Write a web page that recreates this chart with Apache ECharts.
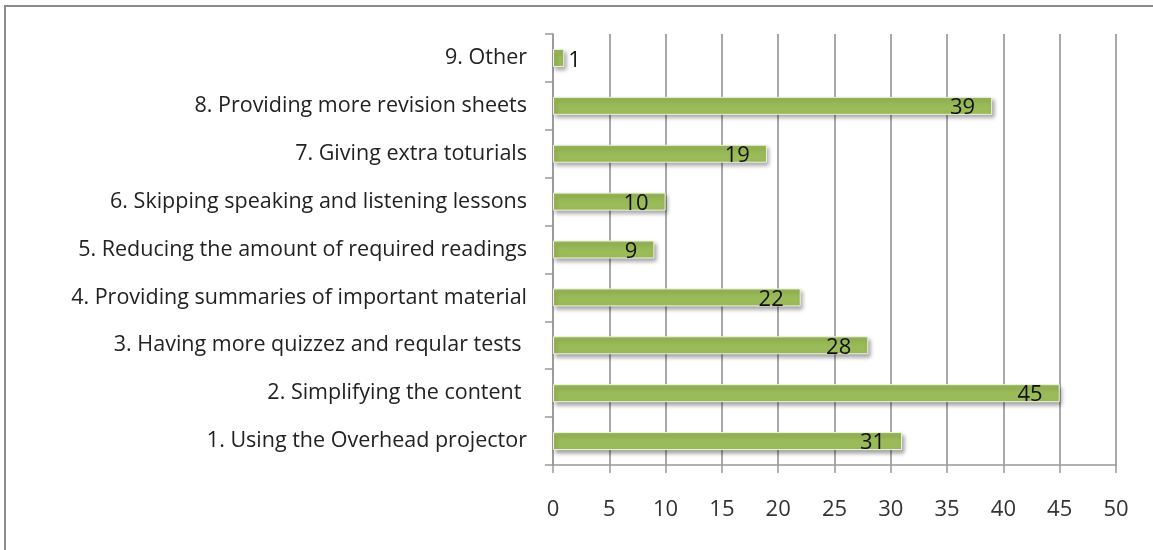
<!DOCTYPE html>
<html>
<head>
<meta charset="utf-8">
<script src="https://cdn.jsdelivr.net/npm/echarts@6/dist/echarts.min.js"></script>
<style>
  html, body { margin: 0; padding: 0; background: #fff; }
  #chart { width: 1153px; height: 550px; }
</style>
</head>
<body>
<div id="chart"></div>
<script>
// categories bottom -> top (ECharts category axis starts at the bottom)
var categories = [
  '1. Using the Overhead projector',
  '2. Simplifying the content ',
  '3. Having more quizzez and reqular tests ',
  '4. Providing summaries of important material',
  '5. Reducing the amount of required readings',
  '6. Skipping speaking and listening lessons',
  '7. Giving extra toturials',
  '8. Providing more revision sheets',
  '9. Other'
];
var counts = [31, 45, 28, 22, 9, 10, 19, 39, 1];
var xTicks = [0, 50, 5]; // min, max, interval

var myChart = echarts.init(document.getElementById('chart'));

var barData = counts.map(function (v) {
  var item = { value: v };
  if (v < 3) {
    item.label = { position: 'right', offset: [-1, 3] };
  }
  return item;
});

myChart.setOption({
  animation: false,
  textStyle: { fontFamily: 'Open Sans' },
  graphic: [{
    type: 'rect',
    shape: { x: 5, y: 6, width: 1170, height: 580 },
    style: { fill: 'none', stroke: '#8c8c8c', lineWidth: 2 },
    silent: true
  }],
  grid: { left: 553, right: 37, top: 34, bottom: 85 },
  xAxis: {
    type: 'value',
    min: xTicks[0],
    max: xTicks[1],
    interval: xTicks[2],
    axisLine: { show: true, lineStyle: { color: '#999', width: 1.5 } },
    axisTick: { show: true, length: 8, lineStyle: { color: '#999', width: 1.5 } },
    axisLabel: { color: '#333', fontSize: 22, margin: 34 },
    splitLine: { show: true, lineStyle: { color: '#a8a8a8', width: 2 } }
  },
  yAxis: {
    type: 'category',
    data: categories,
    axisLine: { show: true, lineStyle: { color: '#999', width: 1.5 } },
    axisTick: { show: true, length: 8, alignWithLabel: false, lineStyle: { color: '#999', width: 1.5 } },
    axisLabel: { color: '#222', fontSize: 21.5, margin: 26, padding: [5, 0, 0, 0] }
  },
  series: [{
    type: 'bar',
    data: barData,
    barWidth: 18,
    itemStyle: {
      color: '#9bbb59',
      borderColor: '#eef3e2',
      borderWidth: 1,
      shadowColor: 'rgba(0,0,0,0.35)',
      shadowBlur: 4,
      shadowOffsetX: 2,
      shadowOffsetY: 3
    },
    label: {
      show: true,
      position: 'insideRight',
      offset: [-12, 2],
      color: '#111',
      fontSize: 22
    }
  }]
});
</script>
</body>
</html>
